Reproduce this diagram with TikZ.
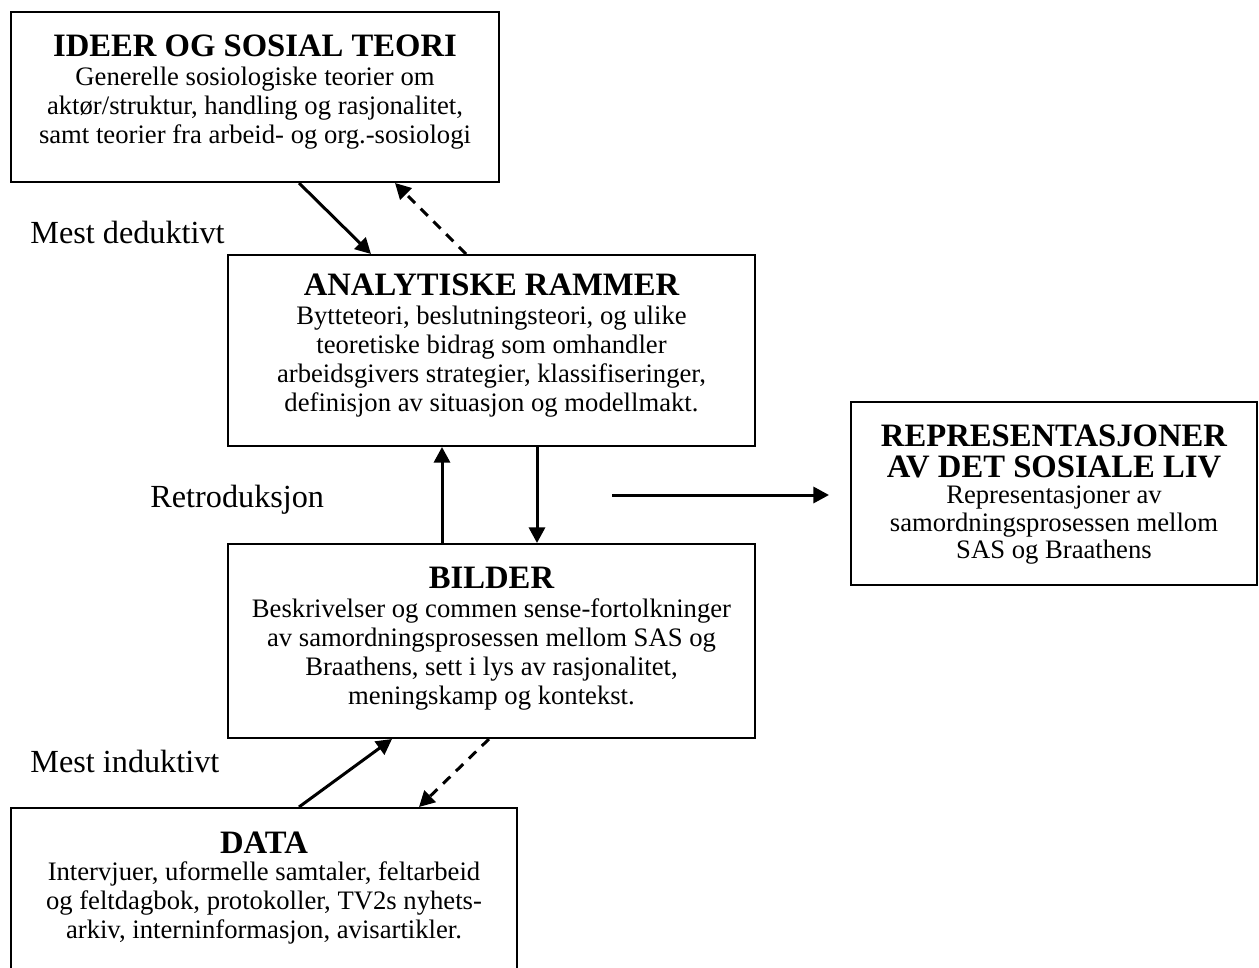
\documentclass[tikz,border=0pt]{standalone}
\usepackage{fontspec}
\setmainfont{Liberation Serif}
\usetikzlibrary{arrows.meta,calc}
\begin{document}
\begin{tikzpicture}[x=0.45pt,y=-0.45pt,
  box/.style={draw,line width=0.9pt,inner sep=0pt,rectangle},
  txt/.style={anchor=north,align=center,inner sep=0pt,font=\fontsize{12}{13.05}\selectfont},
  tighttxt/.style={txt,font=\fontsize{12}{12.4}\selectfont},
  lbl/.style={anchor=base west,inner sep=0pt,font=\fontsize{14.5}{16}\selectfont},
  conn/.style={line width=1.35pt,-{Triangle[length=7pt,width=7.2pt]}},
  dconn/.style={conn,dash pattern=on 4.5pt off 3.6pt}]
\useasboundingbox (0,0) rectangle (1259,968);
\clip (0,0) rectangle (1259,968);
\newcommand{\hd}[1]{{\fontsize{14.7}{16}\selectfont\bfseries #1}}
% boxes
\node[box,minimum width=219.6pt,minimum height=76.5pt] (A) at (255,97) {};
\node[box,minimum width=237.15pt,minimum height=85.95pt] (B) at (491.5,350.5) {};
\node[box,minimum width=237.15pt,minimum height=87.3pt] (C) at (491.5,641) {};
\node[box,minimum width=227.7pt,minimum height=81pt] (D) at (264,898) {};
\node[box,minimum width=182.7pt,minimum height=82.35pt] (R) at (1054,493.5) {};
% texts
\node[txt] (tA) at ($(A.north)+(0,23)$) {\hd{IDEER OG SOSIAL TEORI}\\Generelle sosiologiske teorier om\\aktør/struktur, handling og rasjonalitet,\\samt teorier fra arbeid- og org.-sosiologi};
\node[txt] (tB) at ($(B.north)+(0,19)$) {\hd{ANALYTISKE RAMMER}\\Bytteteori, beslutningsteori, og ulike\\teoretiske bidrag som omhandler\\arbeidsgivers strategier, klassifiseringer,\\definisjon av situasjon og modellmakt.};
\node[txt] (tC) at ($(C.north)+(0,24)$) {\hd{BILDER}\\Beskrivelser og commen sense-fortolkninger\\av samordningsprosessen mellom SAS og\\Braathens, sett i lys av rasjonalitet,\\meningskamp og kontekst.};
\node[txt] (tD) at ($(D.north)+(0,24)$) {\hd{DATA}\\[-0.6pt]Intervjuer, uformelle samtaler, feltarbeid\\og feltdagbok, protokoller, TV2s nyhets-\\arkiv, interninformasjon, avisartikler.};
\node[tighttxt] (tR) at ($(R.north)+(0,23)$) {\hd{REPRESENTASJONER}\\[1.8pt]\hd{AV DET SOSIALE LIV}\\[-0.6pt]Representasjoner av\\samordningsprosessen mellom\\SAS og Braathens};
% labels
\node[lbl] (l1) at (30,243) {Mest deduktivt};
\node[lbl] (l2) at (150,507) {Retroduksjon};
\node[lbl] (l3) at (30,772) {Mest induktivt};
% connectors
\draw[conn] ($(A.south west)+(289,0)$) -- ($(B.north west)+(144,0)$);
\draw[dconn] ($(B.north west)+(239,0)$) -- ($(A.south west)+(385,0)$);
\draw[conn] ($(C.north west)+(215,0)$) -- ($(B.south west)+(215,0)$);
\draw[conn] ($(B.south west)+(310,0)$) -- ($(C.north west)+(310,0)$);
\draw[conn] ($(D.north west)+(289,0)$) -- ($(C.south west)+(165,0)$);
\draw[dconn] ($(C.south west)+(262,0)$) -- ($(D.north west)+(409,0)$);
\coordinate (h1) at (612,495);
\coordinate (h2) at (829,495);
\draw[conn] (h1) -- (h2);
\end{tikzpicture}
\end{document}
